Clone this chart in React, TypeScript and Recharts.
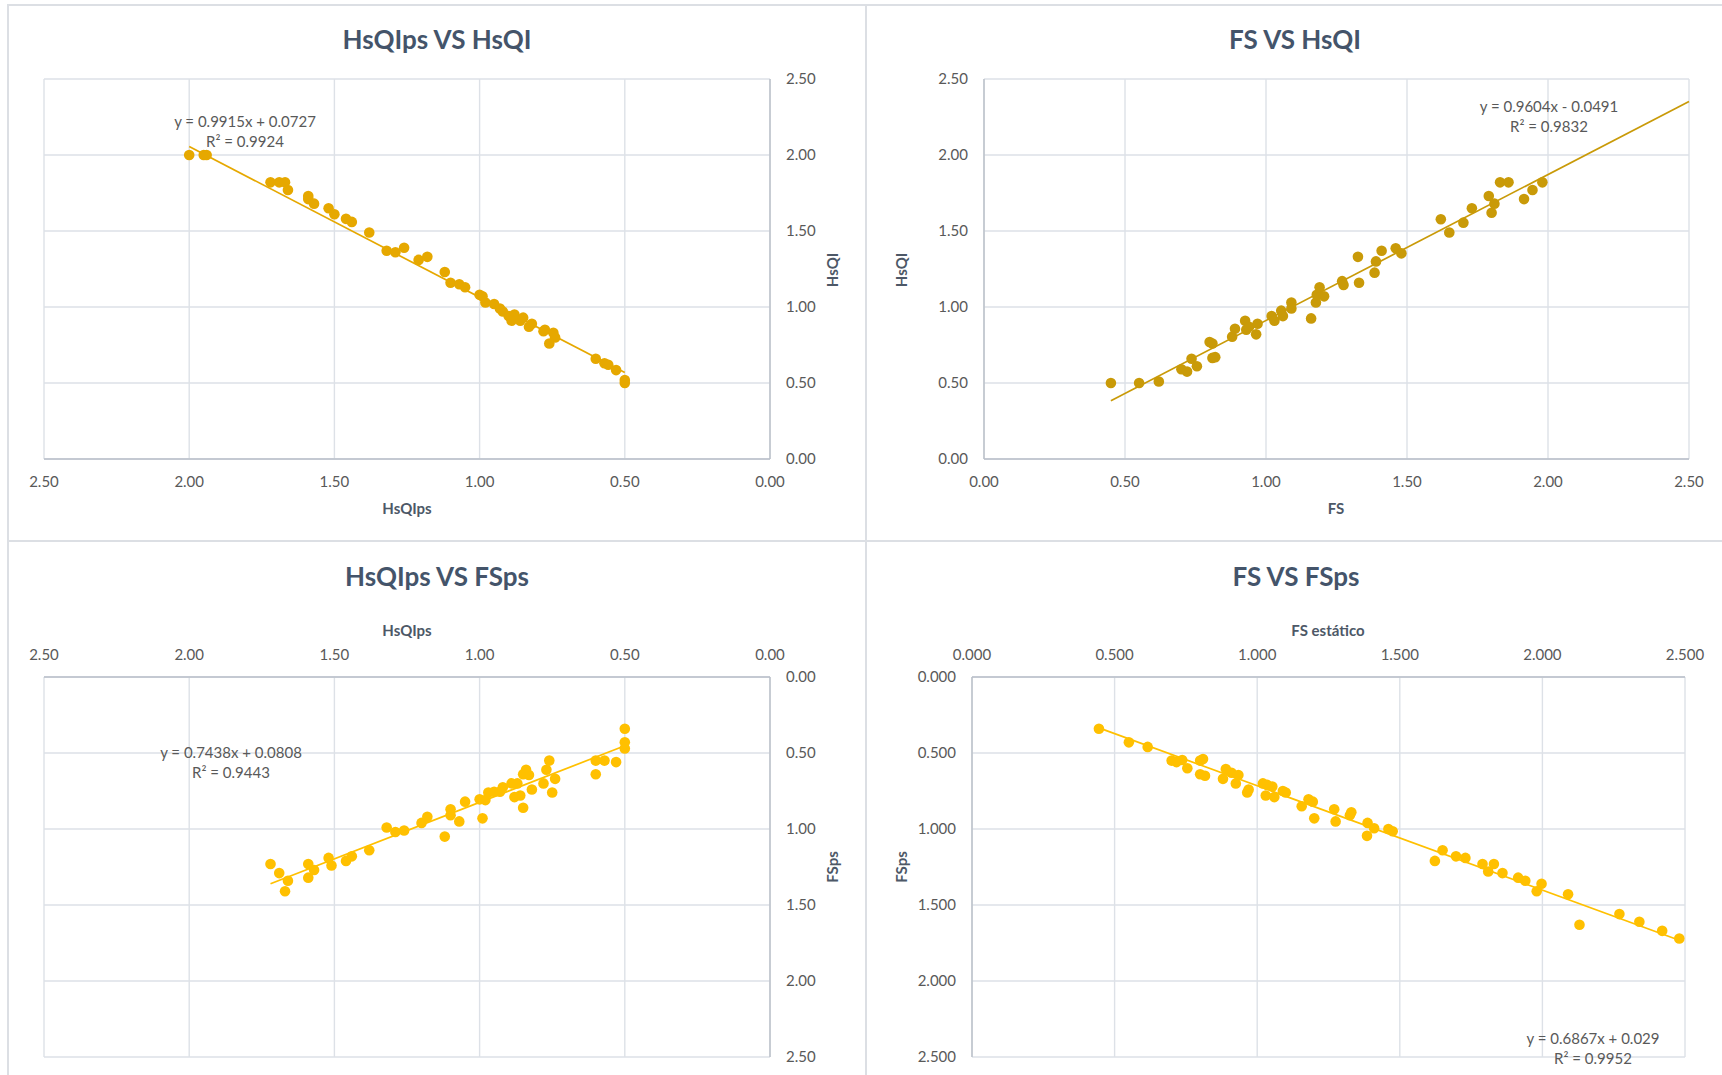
import React from 'react';
import { ScatterChart, Scatter, XAxis, YAxis, CartesianGrid, ReferenceLine } from 'recharts';

const FONT = "Lato, 'Open Sans', sans-serif";
const TICKS = [0, 0.5, 1, 1.5, 2, 2.5];

// HsQIps vs HsQI
const hsqipsA = [2.0, 1.95, 1.94, 1.72, 1.69, 1.67, 1.66, 1.59, 1.59, 1.57, 1.52, 1.5, 1.46, 1.44, 1.38, 1.32, 1.29, 1.26, 1.21, 1.18, 1.12, 1.1, 1.07, 1.05, 1.0, 0.99, 0.98, 0.95, 0.93, 0.92, 0.9, 0.88, 0.89, 0.86, 0.85, 0.83, 0.82, 0.775, 0.78, 0.746, 0.74, 0.76, 0.6, 0.57, 0.557, 0.53, 0.5, 0.5];
const hsqiA = [2.0, 2.0, 2.0, 1.82, 1.82, 1.82, 1.77, 1.73, 1.71, 1.68, 1.65, 1.61, 1.58, 1.56, 1.49, 1.37, 1.36, 1.39, 1.31, 1.33, 1.23, 1.16, 1.15, 1.13, 1.08, 1.07, 1.03, 1.02, 0.99, 0.97, 0.94, 0.95, 0.91, 0.91, 0.93, 0.87, 0.89, 0.85, 0.84, 0.83, 0.8, 0.76, 0.66, 0.63, 0.62, 0.585, 0.5, 0.52];

// FS vs HsQI
const fsB = [0.45, 0.55, 0.62, 0.7, 0.72, 0.736, 0.755, 0.8, 0.81, 0.81, 0.82, 0.88, 0.89, 0.926, 0.93, 0.94, 0.965, 0.97, 1.02, 1.03, 1.054, 1.06, 1.09, 1.09, 1.16, 1.177, 1.18, 1.19, 1.206, 1.27, 1.275, 1.326, 1.33, 1.385, 1.39, 1.41, 1.46, 1.48, 1.62, 1.65, 1.7, 1.73, 1.79, 1.8, 1.81, 1.83, 1.86, 1.915, 1.945, 1.98];
const hsqiB = [0.5, 0.5, 0.51, 0.59, 0.575, 0.66, 0.61, 0.77, 0.76, 0.665, 0.67, 0.805, 0.857, 0.91, 0.85, 0.87, 0.82, 0.89, 0.94, 0.91, 0.976, 0.94, 1.03, 0.99, 0.925, 1.03, 1.08, 1.13, 1.07, 1.17, 1.145, 1.33, 1.16, 1.226, 1.3, 1.37, 1.386, 1.353, 1.577, 1.49, 1.555, 1.65, 1.73, 1.62, 1.68, 1.82, 1.82, 1.71, 1.77, 1.82];

// HsQIps vs FSps
const hsqipsC = [1.72, 1.69, 1.66, 1.67, 1.59, 1.59, 1.57, 1.52, 1.51, 1.46, 1.44, 1.38, 1.32, 1.29, 1.26, 1.2, 1.18, 1.12, 1.1, 1.1, 1.07, 1.05, 1.0, 0.99, 0.98, 0.97, 0.95, 0.93, 0.92, 0.89, 0.87, 0.88, 0.86, 0.85, 0.85, 0.84, 0.83, 0.82, 0.78, 0.77, 0.76, 0.75, 0.74, 0.6, 0.6, 0.57, 0.53, 0.5, 0.5, 0.5];
const fspsC = [1.23, 1.29, 1.34, 1.41, 1.23, 1.32, 1.27, 1.19, 1.24, 1.21, 1.18, 1.14, 0.99, 1.02, 1.01, 0.96, 0.92, 1.05, 0.87, 0.91, 0.95, 0.82, 0.805, 0.93, 0.81, 0.76, 0.755, 0.755, 0.726, 0.7, 0.7, 0.79, 0.78, 0.86, 0.64, 0.61, 0.645, 0.74, 0.7, 0.61, 0.55, 0.76, 0.67, 0.55, 0.64, 0.55, 0.56, 0.34, 0.43, 0.47];

// FS estático vs FSps
const fsD = [0.445, 0.55, 0.616, 0.7, 0.717, 0.737, 0.755, 0.8, 0.81, 0.8, 0.817, 0.88, 0.89, 0.91, 0.925, 0.934, 0.965, 0.97, 1.02, 1.035, 1.03, 1.053, 1.06, 1.09, 1.1, 1.156, 1.18, 1.195, 1.2, 1.27, 1.275, 1.325, 1.33, 1.387, 1.385, 1.41, 1.46, 1.475, 1.623, 1.65, 1.697, 1.73, 1.79, 1.81, 1.83, 1.86, 1.915, 1.94, 1.997, 1.98, 2.09, 2.13, 2.27, 2.34, 2.42, 2.48];
const fspsD = [0.34, 0.43, 0.46, 0.55, 0.56, 0.546, 0.6, 0.55, 0.54, 0.64, 0.65, 0.67, 0.605, 0.63, 0.7, 0.645, 0.76, 0.74, 0.7, 0.71, 0.78, 0.72, 0.79, 0.75, 0.76, 0.85, 0.805, 0.82, 0.93, 0.87, 0.95, 0.91, 0.89, 0.96, 1.045, 0.995, 1.0, 1.015, 1.21, 1.14, 1.18, 1.19, 1.23, 1.28, 1.23, 1.29, 1.32, 1.34, 1.36, 1.41, 1.43, 1.63, 1.56, 1.61, 1.67, 1.72];

// Linear trendlines: [slope, intercept, R², x from, x to]
const trendA = [0.9915, 0.0727, 0.9924, 0.5, 2.0];
const trendB = [0.9604, -0.0491, 0.9832, 0.45, 2.5];
const trendC = [0.7438, 0.0808, 0.9443, 0.5, 1.72];
const trendD = [0.6867, 0.029, 0.9952, 0.445, 2.48];

type Pt = { x: number; y: number };
const zip = (xs: number[], ys: number[]): Pt[] => xs.map((x, i) => ({ x, y: ys[i] }));

const TICK_STYLE = { fill: '#595959', fontSize: 15, fontFamily: FONT };
const GRID = '#dde1e7';
const AXIS = '#b9bfc8';

function equation(t: number[]) {
  const [m, b] = t;
  const sign = b < 0 ? '-' : '+';
  return `y = ${m}x ${sign} ${Math.abs(b)}`;
}

type PanelProps = {
  left: number;
  top: number;
  width: number;
  height: number;
  margin: { top: number; right: number; bottom: number; left: number };
  xOrient: 'top' | 'bottom';
  xReversed: boolean;
  yOrient: 'left' | 'right';
  yReversed: boolean;
  points: Pt[];
  trend: number[];
  color: string;
  decimals: number;
};

function Panel(p: PanelProps) {
  const fmt = (v: number) => v.toFixed(p.decimals);
  const [m, b, , x0, x1] = p.trend;
  return (
    <div style={{ position: 'absolute', left: p.left, top: p.top }}>
      <ScatterChart width={p.width} height={p.height} margin={p.margin}>
        <CartesianGrid stroke={GRID} strokeWidth={1.4} />
        <XAxis
          type="number"
          dataKey="x"
          domain={[0, 2.5]}
          ticks={TICKS}
          interval={0}
          reversed={p.xReversed}
          orientation={p.xOrient}
          height={30}
          tickFormatter={fmt}
          tick={TICK_STYLE}
          tickLine={false}
          tickSize={5}
          tickMargin={12}
          axisLine={{ stroke: AXIS, strokeWidth: 1.4 }}
        />
        <YAxis
          type="number"
          dataKey="y"
          domain={[0, 2.5]}
          ticks={TICKS}
          interval={0}
          reversed={p.yReversed}
          orientation={p.yOrient}
          width={60}
          tickFormatter={fmt}
          tick={TICK_STYLE}
          tickLine={false}
          tickSize={5}
          tickMargin={11}
          axisLine={{ stroke: AXIS, strokeWidth: 1.4 }}
        />
        <Scatter
          data={p.points}
          fill={p.color}
          isAnimationActive={false}
          shape={(s: any) => <circle cx={s.cx} cy={s.cy} r={5.3} fill={p.color} />}
        />
        <ReferenceLine
          segment={[
            { x: x0, y: m * x0 + b },
            { x: x1, y: m * x1 + b },
          ]}
          stroke={p.color}
          strokeWidth={1.7}
          ifOverflow="visible"
        />
      </ScatterChart>
    </div>
  );
}

function Caption({ x, y, children, size = 15, bold = false, color = '#595959', rotate = false }: any) {
  return (
    <div
      style={{
        position: 'absolute',
        left: x,
        top: y,
        transform: `translate(-50%, -50%)${rotate ? ' rotate(-90deg)' : ''}`,
        fontFamily: FONT,
        fontSize: size,
        fontWeight: bold ? 700 : 400,
        color,
        whiteSpace: 'nowrap',
        lineHeight: 1,
        textAlign: 'center',
      }}
    >
      {children}
    </div>
  );
}

function Line({ left, top, width, height }: any) {
  return <div style={{ position: 'absolute', left, top, width, height, background: '#dcdfe4' }} />;
}

export default function App() {
  const titleColor = '#44546A';
  const axisTitle = '#4d5867';
  return (
    <div style={{ position: 'absolute', left: 0, top: 0, width: 1722, height: 1075, background: '#fff', overflow: 'hidden' }}>
      {/* panel frames */}
      <Line left={7} top={4} width={1715} height={2} />
      <Line left={7} top={540} width={1715} height={2} />
      <Line left={7} top={4} width={2} height={1071} />
      <Line left={865} top={4} width={2} height={1071} />

      <Panel
        left={8} top={5} width={858} height={536}
        margin={{ top: 74, right: 36, bottom: 52, left: 36 }}
        xOrient="bottom" xReversed yOrient="right" yReversed={false}
        points={zip(hsqipsA, hsqiA)} trend={trendA} color="#E6A800" decimals={2}
      />
      <Panel
        left={867} top={5} width={855} height={536}
        margin={{ top: 74, right: 33, bottom: 52, left: 57 }}
        xOrient="bottom" xReversed={false} yOrient="left" yReversed={false}
        points={zip(fsB, hsqiB)} trend={trendB} color="#C99A08" decimals={2}
      />
      <Panel
        left={8} top={542} width={858} height={533}
        margin={{ top: 105, right: 36, bottom: 18, left: 36 }}
        xOrient="top" xReversed yOrient="right" yReversed
        points={zip(hsqipsC, fspsC)} trend={trendC} color="#FFC000" decimals={2}
      />
      <Panel
        left={867} top={542} width={855} height={533}
        margin={{ top: 105, right: 37, bottom: 18, left: 45 }}
        xOrient="top" xReversed={false} yOrient="left" yReversed
        points={zip(fsD, fspsD)} trend={trendD} color="#FFC000" decimals={3}
      />

      {/* chart titles */}
      <Caption x={437} y={39} size={26} bold color={titleColor}>HsQIps VS HsQI</Caption>
      <Caption x={1295} y={39} size={26} bold color={titleColor}>FS VS HsQI</Caption>
      <Caption x={437} y={576} size={26} bold color={titleColor}>HsQIps VS FSps</Caption>
      <Caption x={1296} y={576} size={26} bold color={titleColor}>FS VS FSps</Caption>

      {/* axis titles */}
      <Caption x={407} y={508} size={15} bold color={axisTitle}>HsQIps</Caption>
      <Caption x={832} y={270} size={15} bold color={axisTitle} rotate>HsQI</Caption>
      <Caption x={1336} y={508} size={15} bold color={axisTitle}>FS</Caption>
      <Caption x={901} y={270} size={15} bold color={axisTitle} rotate>HsQI</Caption>
      <Caption x={407} y={630} size={15} bold color={axisTitle}>HsQIps</Caption>
      <Caption x={832} y={867} size={15} bold color={axisTitle} rotate>FSps</Caption>
      <Caption x={1328} y={630} size={15} bold color={axisTitle}>FS estático</Caption>
      <Caption x={901} y={867} size={15} bold color={axisTitle} rotate>FSps</Caption>

      {/* trendline equations */}
      <Caption x={245} y={121}>{equation(trendA)}</Caption>
      <Caption x={245} y={141}>{`R² = ${trendA[2]}`}</Caption>
      <Caption x={1549} y={106}>{equation(trendB)}</Caption>
      <Caption x={1549} y={126}>{`R² = ${trendB[2]}`}</Caption>
      <Caption x={231} y={752}>{equation(trendC)}</Caption>
      <Caption x={231} y={772}>{`R² = ${trendC[2]}`}</Caption>
      <Caption x={1593} y={1038}>{equation(trendD)}</Caption>
      <Caption x={1593} y={1058}>{`R² = ${trendD[2]}`}</Caption>
    </div>
  );
}
